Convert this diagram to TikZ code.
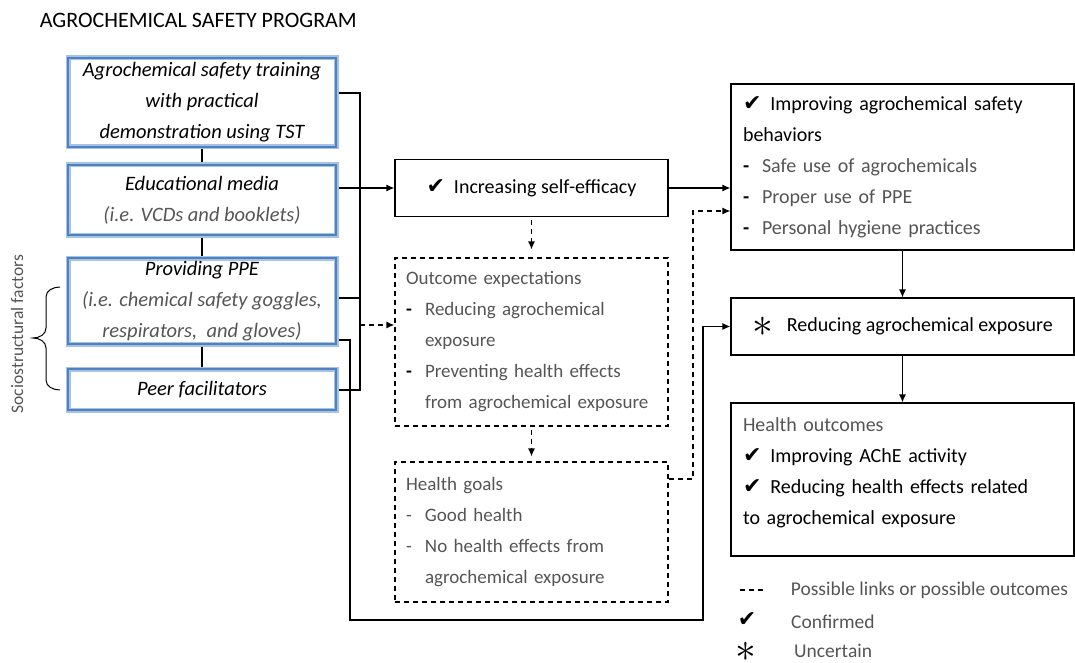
\documentclass[tikz,border=0pt]{standalone}
\usepackage{fontspec}
\setmainfont{Carlito}
\newfontfamily\symf{DejaVu Sans}
\usepackage{graphicx}
\usepackage{tikz}
\usetikzlibrary{arrows.meta}

\definecolor{blueout}{RGB}{165,195,230}
\definecolor{bluein}{RGB}{79,129,189}
\definecolor{txtgray}{RGB}{85,85,85}

\newcommand{\chk}{{\symf\fontsize{22}{22}\selectfont ✔}}
\newcommand{\astr}{\raisebox{-5pt}{\scalebox{2}{$\ast$}}}
\newcommand{\itm}{\makebox[19pt][l]{\textcolor{black}{\textbf{-}}}}
\newcommand{\itmg}{\makebox[19pt][l]{-}}
\newcommand{\ind}{\hspace*{19pt}}

\tikzset{
  progbox/.style={draw=blueout, line width=5pt, minimum width=268pt, inner sep=0pt,
    align=center, font=\fontsize{20.5}{31}\selectfont\itshape, postaction={draw=bluein, line width=2pt}},
  outbox/.style={draw, line width=1.2pt, inner xsep=12pt, inner ysep=0pt, align=left},
  dashbox/.style={outbox, dash pattern=on 5pt off 4pt, font=\fontsize{19}{31}\selectfont},
  link/.style={line width=1.2pt},
  arr/.style={link, -{Latex[length=8pt,width=7pt]}},
  dlink/.style={dash pattern=on 5pt off 4pt},
  lgsym/.style={inner sep=0pt, text height=14pt, text depth=0pt}
}

\begin{document}
\fontsize{20}{31}\selectfont
\begin{tikzpicture}[x=1pt,y=-1pt]
\useasboundingbox (0,0) rectangle (1075,663);
\node[anchor=west, font=\fontsize{22}{26}\selectfont] (title) at (33,20) {AGROCHEMICAL SAFETY PROGRAM};
% program components
\node[progbox, minimum height=89pt] (train) at (202,102.5) {Agrochemical safety training\\with practical\\demonstration using TST};
\node[progbox, minimum height=70pt] (media) at (202,200) {Educational media\\\textcolor{txtgray}{(i.e. VCDs and booklets)}};
\node[progbox, minimum height=86pt] (ppe) at (202,301) {Providing PPE\\\textcolor{txtgray}{(i.e. chemical safety goggles,}\\\textcolor{txtgray}{respirators,\ \ and gloves)}};
\node[progbox, minimum height=41pt] (peer) at (202,389.5) {Peer facilitators};
\draw[link] (train) -- (media);
\draw[link] (media) -- (ppe);
\draw[link] (ppe) -- (peer);
\draw[line width=1pt] (60,287) to[out=180,in=90] (46,297) -- (46,328) to[out=270,in=0] (33,338)
  to[out=0,in=90] (46,348) -- (46,380) to[out=270,in=180] (60,390);
\node[rotate=90, text=txtgray, font=\fontsize{17.5}{18}\selectfont] (socio) at (17,334) {Sociostructural factors};
% mediators
\node[outbox, inner xsep=0pt, minimum width=273pt, minimum height=57pt] (eff) at (531.5,188) {\chk\hspace{9pt}Increasing self-efficacy};
\node[dashbox, text=txtgray, text width=251pt, inner xsep=11pt, minimum height=168pt] (outc) at (531.5,342) {Outcome expectations\\\itm Reducing agrochemical\\\ind exposure\\\itm Preventing health effects\\\ind\mbox{from agrochemical exposure}};
\node[dashbox, text=txtgray, text width=251pt, inner xsep=11pt, minimum height=140pt] (goals) at (531.5,532) {Health goals\\\itmg Good health\\\itmg No health effects from\\\ind agrochemical exposure};
% outcomes
\node[outbox, text=txtgray, text width=319pt, minimum height=166pt] (beh) at (902.5,167) {\textcolor{black}{\chk\hspace{9pt}Improving agrochemical safety}\\\textcolor{black}{behaviors}\\\itm Safe use of agrochemicals\\\itm Proper use of PPE\\\itm Personal hygiene practices};
\node[outbox, inner xsep=0pt, minimum width=343pt, minimum height=57pt] (red) at (902.5,326.5) {\astr\hspace{14pt}Reducing agrochemical exposure};
\node[outbox, text width=319pt, minimum height=153pt] (hout) at (902.5,479.5) {\textcolor{txtgray}{Health outcomes}\\\chk\hspace{9pt}Improving AChE activity\\\chk\hspace{9pt}Reducing health effects related\\to agrochemical exposure\\[-14pt]\mbox{}};
% connectors
\coordinate (bt) at (360,93);
\coordinate (bm) at (360,298);
\coordinate (bd) at (360,325);
\coordinate (bb) at (360,390);
\draw[link] (train.east |- bt) -- (bt) -- (bb) -- (peer.east |- bb);
\draw[link] (ppe.east |- bm) -- (bm);
\draw[arr] (media.east |- eff.west) -- (eff.west);
\draw[arr, dlink] (bd) -- (outc.west |- bd);
\coordinate (lp) at (350,340);
\coordinate (lq) at (350,620);
\coordinate (lr) at (703,620);
\draw[arr] (ppe.east |- lp) -- (lp) -- (lq) -- (lr) |- (red.west);
\draw[arr] (eff.east) -- (beh.west |- eff.east);
\draw[arr, dlink, shorten <=3pt, shorten >=8pt] (eff.south) -- (outc.north);
\draw[arr, dlink, shorten <=3pt, shorten >=5pt] (outc.south) -- (goals.north);
\coordinate (gd) at (693,479);
\coordinate (gu) at (693,211);
\draw[arr, dlink] (goals.east |- gd) -- (gd) -- (gu) -- (beh.west |- gu);
\draw[arr] (beh.south) -- (red.north);
\draw[arr] (red.south) -- (hout.north);
% legend
\coordinate (lgA) at (740,590);
\coordinate (lgB) at (766,590);
\draw[link, dlink] (lgA) -- (lgB);
\node[anchor=west, text=txtgray, font=\fontsize{19.5}{22}\selectfont] (lgdash) at (784,590) {Possible links or possible outcomes};
\node[lgsym] (lgchk) at (747,619) {\chk};
\node[anchor=west, inner sep=0pt, text=txtgray, font=\fontsize{19.5}{22}\selectfont] (lgconf) at (791,622) {Confirmed};
\node[lgsym] (lgast) at (746,649) {\astr};
\node[anchor=west, inner sep=0pt, text=txtgray, font=\fontsize{19.5}{22}\selectfont] (lgunc) at (794,651) {Uncertain};
\end{tikzpicture}
\end{document}
